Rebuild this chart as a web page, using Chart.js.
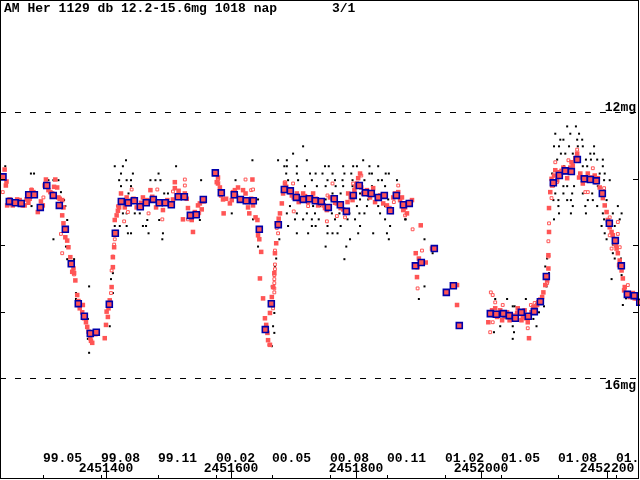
<!DOCTYPE html>
<html>
<head>
<meta charset="utf-8">
<script src="https://cdn.jsdelivr.net/npm/chart.js@4.4.0/dist/chart.umd.min.js"></script>
<style>
  html, body { margin: 0; padding: 0; background: #fff; }
  canvas { display: block; }
</style>
</head>
<body>
<canvas id="lc" width="640" height="480"></canvas>
<script>
// Julian dates are stored as JD - 2451000
const jdBase = 2451000;

// 10-day means (blue boxes)
const meanObs = [[235.4,12.97],[245.5,13.34],[255.1,13.36],[264.6,13.37],[276.5,13.24],[285.5,13.24],[295.0,13.43],[305.3,13.10],[315.7,13.25],[325.4,13.40],[335.0,13.76],[344.5,14.28],[355.7,14.88],[365.4,15.07],[374.9,15.33],[384.5,15.31],[405.3,14.89],[414.9,13.82],[424.5,13.34],[435.6,13.36],[445.3,13.33],[454.8,13.42],[464.4,13.36],[475.6,13.31],[485.2,13.36],[494.8,13.36],[504.4,13.39],[515.5,13.27],[525.2,13.27],[534.8,13.55],[544.3,13.54],[555.5,13.31],[574.7,12.91],[584.3,13.21],[605.0,13.24],[614.7,13.31],[624.2,13.33],[635.4,13.33],[645.0,13.76],[654.6,15.27],[664.2,14.88],[675.4,13.69],[685.0,13.16],[694.6,13.18],[704.2,13.28],[715.3,13.31],[724.9,13.30],[734.5,13.33],[744.1,13.34],[755.3,13.43],[764.8,13.30],[774.5,13.39],[784.1,13.49],[795.2,13.25],[804.8,13.10],[814.5,13.21],[824.0,13.22],[835.2,13.28],[844.8,13.25],[854.4,13.48],[864.0,13.25],[875.2,13.39],[884.7,13.37],[894.4,14.31],[903.9,14.26],[924.7,14.05],[943.9,14.71],[955.1,14.61],[964.6,15.21],[1014.2,15.03],[1023.8,15.04],[1035.0,15.03],[1044.5,15.06],[1054.2,15.10],[1063.8,15.01],[1074.9,15.07],[1084.5,15.00],[1094.2,14.85],[1103.7,14.47],[1114.9,13.06],[1124.5,12.95],[1134.1,12.88],[1143.7,12.89],[1153.3,12.71],[1164.4,13.00],[1174.1,13.01],[1183.6,13.03],[1193.2,13.22],[1204.4,13.67],[1214.0,13.93],[1223.6,14.31],[1233.2,14.74],[1244.3,14.76],[1253.0,14.86]];

// CCD / photoelectric estimates (filled red)
const ccdObs = [[238,12.86],[240,13.10],[241,13.04],[242,13.40],[246,13.31],[251,13.40],[258,13.31],[262,13.32],[270,13.40],[273,13.31],[281,13.17],[291,13.50],[299,13.40],[304,13.01],[308,13.17],[314,13.22],[319,13.01],[322,13.13],[324,13.28],[330,13.32],[332,13.43],[330,13.55],[332,13.67],[335,13.88],[338,13.93],[340,14.03],[343,14.18],[348,14.35],[349,14.42],[351,14.53],[354,14.75],[363,14.90],[362,15.01],[368,15.16],[370,15.23],[375,15.40],[378,15.47],[398,15.40],[400,15.20],[403,15.08],[406,14.83],[409,14.63],[411,14.33],[411,14.18],[413,14.03],[414,13.62],[417,13.55],[421,13.43],[424,13.22],[430,13.43],[433,13.28],[441,13.32],[449,13.43],[459,13.28],[471,13.17],[476,13.32],[480,13.43],[487,13.37],[491,13.47],[498,13.32],[510,13.05],[510,13.14],[507,13.31],[523,13.61],[526,13.22],[531,13.44],[537,13.62],[539,13.80],[547,13.40],[553,13.46],[577,13.05],[579,12.98],
  [244,13.36],[249,13.38],[254,13.35],[265,13.37],[267,13.40],[276,13.36],[278,13.30],[284,13.20],[287,13.22],[296,13.34],[302,13.10],[311,13.20],[317,13.12],[326,13.30],[344,14.27],[346,14.40],[356,14.84],[358,14.95],[365,15.10],[372,15.30],[376,15.44],[383,15.34],[401,15.00],[404,14.95],[416,13.80],[419,13.48],[427,13.34],[436,13.38],[444,13.30],[452,13.40],[456,13.36],[466,13.32],[474,13.27],[483,13.38],[494,13.36],[501,13.38],[513,13.25],[516,13.18],[529,13.30],[534,13.56],[542,13.50],[545,13.55],[556,13.34],
  [550,13.37],[577,12.92],[579,13.07],[582,13.13],[587,13.31],[588,13.52],[598,13.37],[601,13.32],[606,13.17],[611,13.13],[619,13.17],[623,13.22],[627,13.43],[629,13.52],[634,13.01],[635,13.40],[639,13.58],[642,13.62],[643,13.85],[645,13.91],[646,14.50],[654,15.10],[658,15.32],[659,15.43],[662,15.50],[662,15.02],[665,14.78],[667,14.63],[669,14.42],[670,14.12],[672,13.97],[673,13.67],[678,13.52],[681,13.37],[683,13.22],[686,13.07],[691,13.17],[697,13.25],[705,13.22],[708,13.35],[715,13.22],[723,13.35],[729,13.28],[731,13.22],[739,13.40],[745,13.35],[750,13.44],[753,13.47],[758,13.28],[769,13.37],[775,13.44],[786,13.35],[787,13.22],[794,13.32],[797,13.17],[801,13.07],[803,12.99],[806,12.92],[808,13.13],[811,13.22],[817,13.17],[822,13.28],[827,13.14],[830,13.35],[838,13.25],[843,13.37],[849,13.40],[859,13.28],[867,13.20],[870,13.32],[878,13.43],[886,13.35],[895,14.12],[897,14.48],[900,14.20],
  [584,13.25],[592,13.30],[603,13.20],[608,13.26],[616,13.30],[626,13.35],[632,13.30],[648,14.10],[651,14.80],[656,15.20],[664,14.90],[676,13.60],[684,13.15],[688,13.12],[694,13.20],[700,13.28],[712,13.30],[718,13.26],[726,13.32],[735,13.30],[742,13.38],[748,13.40],[762,13.30],[766,13.36],[779,13.46],[783,13.50],[791,13.28],[799,13.12],[814,13.20],[820,13.24],[833,13.28],[836,13.30],[846,13.26],[853,13.44],[856,13.50],[862,13.22],
  [873,13.28],[875,13.47],[881,13.52],[889,13.32],[903,13.70],[911,14.26],[898,14.33],[921,14.05],[945,14.71],[961,14.60],[961,14.90],[964,15.20],[1014,15.02],[1011,15.16],[1017,14.98],[1022,14.95],[1025,15.08],[1030,14.98],[1033,15.13],[1037,15.08],[1041,15.01],[1045,15.13],[1050,15.08],[1057,15.02],[1058,14.95],[1064,15.13],[1066,15.08],[1069,14.98],[1074,15.16],[1077,15.08],[1080,15.01],[1083,14.93],[1089,14.90],[1091,14.86],[1097,14.78],[1099,14.71],[1102,14.60],[1105,14.53],[1076,15.40],[1107,14.35],[1107,14.15],[1108,13.80],[1108,13.44],[1110,13.20],[1113,13.10],[1118,12.87],[1121,13.02],[1126,12.92],[1131,12.83],[1137,12.99],[1142,12.83],[1146,12.80],[1150,12.69],[1153,12.62],[1154,12.72],[1158,12.92],[1162,13.07],[1169,12.99],[1170,12.92],[1177,12.98],[1181,12.95],[1186,12.99],[1189,13.13],[1192,13.22],[1194,13.29],[1197,13.40],[1200,13.50],[1202,13.62],[1205,13.73],[1210,13.85],[1213,13.97],[1216,14.05],[1218,14.12],[1221,14.23],[1224,14.38],[1226,14.50],[1229,14.63],[1232,14.72],[1237,14.78],[1242,14.72],[1248,14.80],
  [1019,15.05],[1027,15.02],[1043,15.05],[1048,15.12],[1054,15.06],[1061,15.00],[1071,15.10],[1086,14.95],[1094,14.82],[1112,13.00],[1116,12.95],[1123,12.90],[1128,12.88],[1134,12.90],[1140,12.86],[1144,12.75],[1156,12.98],[1165,13.02],[1173,13.00],[1184,13.05],[1208,13.80],[1215,14.00],[1220,14.30],[1228,14.68],[1234,14.76],[1245,14.80]];

// other instrumental estimates (open red)
const openObs = [[235,13.20],[300,13.28],[281,13.16],[328,13.83],[330,14.12],[349,14.44],[355,14.87],[414,13.91],[413,13.99],[411,14.17],[409,14.38],[408,14.72],[419,13.41],[429,13.64],[435,13.50],[441,13.16],[468,13.52],[482,13.16],[490,13.61],[507,13.19],[526,13.01],[526,13.10],[531,13.61],[549,13.52],
  [623,13.01],[632,13.17],[635,13.16],[579,13.01],[699,13.07],[686,13.05],[700,13.49],[723,13.41],[754,13.25],[762,13.07],[753,13.64],[769,13.56],[795,13.07],[808,12.95],[782,13.58],[867,13.10],[860,13.35],[890,13.76],[675,13.82],[673,13.74],[670,14.08],[670,14.29],[670,14.36],[669,14.45],[669,14.51],[669,14.57],[669,14.65],[669,14.71],[667,14.95],[661,15.50],[898,14.65],
  [878,13.55],[876,13.46],[905,14.08],[1015,14.71],[1018,14.75],[1022,14.86],[1034,14.90],[1018,15.16],[1014,15.31],[1074,15.25],[1079,14.90],[1085,14.87],[1105,14.57],[1107,14.17],[1107,13.94],[1108,13.67],[1112,13.29],[1118,12.75],[1121,13.05],[1139,12.72],[1153,12.56],[1178,12.84],[1166,13.20],[1170,13.20],[1196,13.14],[1205,13.58],[1218,13.65],[1221,14.03],[1205,13.85],[1208,14.05],[1218,13.83],[1234,14.60]];

// visual estimates (black dots)
const visualObs = [[239,12.81],[280,12.92],[285,12.92],[308,13.02],[316,13.02],[324,13.02],[314,13.20],[328,13.20],[333,13.32],[281,13.41],[335,13.41],[338,13.62],[316,13.91],[336,14.02],[349,14.21],[338,14.21],[373,14.62],[352,14.72],[352,14.81],[371,15.11],[371,15.41],[373,15.62],[406,15.22],[408,14.51],[411,14.72],[411,14.42],[432,12.72],[414,12.81],[427,12.81],[424,12.92],[443,12.92],[421,13.02],[433,13.02],[440,13.02],[424,13.11],[440,13.11],[436,13.22],[427,13.52],[433,13.52],[446,13.52],[454,13.52],[414,13.71],[422,13.71],[433,13.71],[459,13.71],[464,13.71],[435,13.82],[440,13.82],[468,13.82],[491,13.82],[490,13.91],[466,13.62],[485,13.62],[471,13.02],[479,13.02],[487,13.02],[484,12.92],[512,12.81],[493,13.22],[499,13.22],[552,13.02],[550,13.62],[544,13.52],
  [715,12.51],[699,12.62],[634,12.72],[675,12.72],[689,12.72],[721,12.72],[811,12.72],[685,12.81],[689,12.81],[705,12.81],[750,12.81],[756,12.81],[779,12.81],[795,12.81],[801,12.81],[821,12.81],[835,12.81],[688,12.92],[705,12.92],[726,12.92],[735,12.92],[746,12.92],[762,12.92],[781,12.92],[792,12.92],[821,12.92],[825,12.92],[847,12.92],[852,12.92],[607,13.02],[691,13.02],[707,13.02],[729,13.02],[754,13.02],[766,13.02],[778,13.02],[794,13.02],[813,13.02],[835,13.02],[841,13.02],[865,13.02],[718,13.11],[737,13.11],[751,13.11],[767,13.11],[779,13.11],[794,13.11],[825,13.11],[846,13.11],[762,13.22],[775,13.22],[787,13.22],[806,13.22],[849,13.22],[865,13.22],[705,13.31],[737,13.31],[751,13.31],[806,13.31],[819,13.31],[851,13.31],[870,13.31],[643,13.31],[694,13.41],[731,13.41],[742,13.41],[758,13.41],[775,13.41],[801,13.41],[817,13.41],[835,13.41],[846,13.41],[876,13.41],[689,13.52],[705,13.52],[721,13.52],[734,13.52],[761,13.52],[773,13.52],[789,13.52],[805,13.52],[813,13.52],[838,13.52],[601,13.52],[635,13.61],[702,13.61],[715,13.61],[729,13.61],[740,13.61],[766,13.61],[786,13.61],[798,13.61],[846,13.61],[878,13.61],[691,13.71],[729,13.71],[735,13.71],[754,13.71],[775,13.71],[806,13.71],[854,13.71],[705,13.82],[723,13.82],[754,13.82],[762,13.82],[770,13.82],[803,13.82],[827,13.82],[849,13.82],[790,13.91],[852,13.91],[677,13.91],[643,14.02],[751,14.02],[784,14.02],[781,14.21],[672,14.20],[670,14.32],[665,14.62],[669,15.02],[667,15.22],[669,15.32],[665,15.52],[900,14.81],
  [1137,12.21],[1151,12.21],[1118,12.32],[1142,12.32],[1156,12.32],[1126,12.41],[1131,12.41],[1153,12.41],[1161,12.41],[1116,12.51],[1124,12.51],[1140,12.51],[1154,12.51],[1162,12.51],[1180,12.51],[1127,12.62],[1134,12.62],[1146,12.62],[1174,12.62],[1180,12.62],[1121,12.71],[1167,12.71],[1175,12.71],[1185,12.71],[1194,12.71],[1132,12.81],[1162,12.81],[1169,12.81],[1194,12.81],[1113,12.92],[1156,12.92],[1189,12.92],[1197,12.92],[1196,13.02],[1205,13.02],[1116,13.11],[1131,13.11],[1137,13.11],[1148,13.11],[1186,13.11],[1118,13.22],[1131,13.22],[1145,13.22],[1162,13.22],[1177,13.22],[1115,13.32],[1123,13.32],[1137,13.32],[1143,13.32],[1170,13.32],[1178,13.32],[1200,13.32],[1123,13.41],[1146,13.41],[1166,13.41],[1185,13.41],[1199,13.41],[1218,13.41],[1124,13.52],[1143,13.52],[1167,13.52],[1194,13.52],[1210,13.52],[1224,13.52],[1116,13.61],[1196,13.61],[1221,13.61],[1192,13.71],[1213,13.71],[1197,13.82],[1200,13.91],[1210,13.99],[1210,14.12],[1213,14.20],[1223,14.20],[1208,14.51],[1224,14.45],[909,13.91],[879,13.61],[922,14.12],[909,14.62],[1041,14.81],[1071,14.81],[1022,14.81],[1050,14.92],[1053,14.92],[1085,14.92],[1100,14.92],[1083,15.11],[1088,15.22],[1030,15.22],[1050,15.22],[1020,15.31],[1052,15.31],[1050,15.41],[1104,14.62],[1102,14.32],[1105,14.20],[1108,14.42],[1226,14.90],[1231,14.80],[1092,15.01],[1229,14.62]];

// axis labels
const monthLabels = ['99.05', '99.08', '99.11', '00.02', '00.05', '00.08', '00.11', '01.02', '01.05', '01.08', '01.11'];
const monthJd = [2451299.5, 2451391.5, 2451483.5, 2451575.5, 2451665.5, 2451757.5, 2451849.5, 2451941.5, 2452030.5, 2452122.5, 2452214.5];
const jdTicks = [2451400, 2451600, 2451800, 2452000, 2452200];
const magTicks = [13, 14, 15];
const magLines = [12, 16];
const title = 'AM Her 1129 db 12.2-15.6mg 1018 nap';
const pageLabel = '3/1';

const RED = '#ff5555';
const BLUE = '#0000aa';
const FONT = 'bold 13px "Liberation Mono", "DejaVu Sans Mono", monospace';

function toPoints(list) {
  return list.map(p => ({ x: jdBase + p[0], y: p[1] }));
}

function crisp(v) {
  return Math.round(v) + 0.5;
}

// frame, dashed limits, ticks and texts
const framePlugin = {
  id: 'frame',
  beforeDatasetsDraw(chart) {
    const ctx = chart.ctx;
    const ys = chart.scales.y;
    ctx.save();
    ctx.strokeStyle = '#000';
    ctx.lineWidth = 1;
    ctx.setLineDash([6, 9]);
    magLines.forEach(m => {
      const py = crisp(ys.getPixelForValue(m));
      ctx.beginPath();
      ctx.moveTo(0, py);
      ctx.lineTo(638, py);
      ctx.stroke();
    });
    ctx.restore();
  },
  afterDraw(chart) {
    const ctx = chart.ctx;
    const xs = chart.scales.x;
    const ys = chart.scales.y;
    ctx.save();
    ctx.strokeStyle = '#000';
    ctx.fillStyle = '#000';
    ctx.lineWidth = 1;
    ctx.strokeRect(0.5, 0.5, 638, 478);

    // magnitude ticks on both sides
    ctx.beginPath();
    magTicks.forEach(m => {
      const py = crisp(ys.getPixelForValue(m));
      ctx.moveTo(0, py); ctx.lineTo(5, py);
      ctx.moveTo(633, py); ctx.lineTo(638, py);
    });
    // month and JD ticks along the bottom
    monthJd.forEach(jd => {
      const px = crisp(xs.getPixelForValue(jd));
      ctx.moveTo(px, 475); ctx.lineTo(px, 478);
    });
    jdTicks.forEach(jd => {
      const px = crisp(xs.getPixelForValue(jd));
      ctx.moveTo(px, 472); ctx.lineTo(px, 478);
    });
    ctx.stroke();

    ctx.beginPath();
    ctx.rect(1, 1, 637, 477);
    ctx.clip();
    ctx.font = FONT;
    ctx.textBaseline = 'alphabetic';

    ctx.textAlign = 'left';
    ctx.fillText(title, 4, 12);
    ctx.fillText(pageLabel, 332, 12);

    monthLabels.forEach((lab, i) => {
      ctx.fillText(lab, Math.round(xs.getPixelForValue(monthJd[i])), 462);
    });
    ctx.textAlign = 'center';
    jdTicks.forEach(jd => {
      ctx.fillText(String(jd), Math.round(xs.getPixelForValue(jd)), 472);
    });

    ctx.textAlign = 'right';
    ctx.fillText(magLines[0] + 'mg', 636, crisp(ys.getPixelForValue(magLines[0])) - 2);
    ctx.fillText(magLines[1] + 'mg', 636, crisp(ys.getPixelForValue(magLines[1])) + 10);
    ctx.restore();
  }
};

new Chart(document.getElementById('lc'), {
  type: 'scatter',
  data: {
    datasets: [
      {
        label: 'mean',
        data: toPoints(meanObs),
        pointStyle: 'rect',
        pointRadius: 4.2,
        backgroundColor: RED,
        borderColor: BLUE,
        borderWidth: 1.6
      },
      {
        label: 'ccd',
        data: toPoints(ccdObs),
        pointStyle: 'rect',
        pointRadius: 3.2,
        backgroundColor: RED,
        borderWidth: 0
      },
      {
        label: 'open',
        data: toPoints(openObs),
        pointStyle: 'rect',
        pointRadius: 2,
        backgroundColor: '#fff',
        borderColor: RED,
        borderWidth: 1
      },
      {
        label: 'visual',
        data: toPoints(visualObs),
        pointStyle: 'rect',
        pointRadius: 1.42,
        backgroundColor: '#000',
        borderWidth: 0
      }
    ]
  },
  options: {
    responsive: false,
    devicePixelRatio: 1,
    animation: false,
    layout: { padding: 0, autoPadding: false },
    plugins: { legend: { display: false }, tooltip: { enabled: false } },
    scales: {
      x: { type: 'linear', min: 2451230.6, max: 2452253.4, display: false },
      y: { type: 'linear', reverse: true, min: 10.306, max: 17.536, display: false }
    }
  },
  plugins: [framePlugin]
});
</script>
</body>
</html>
